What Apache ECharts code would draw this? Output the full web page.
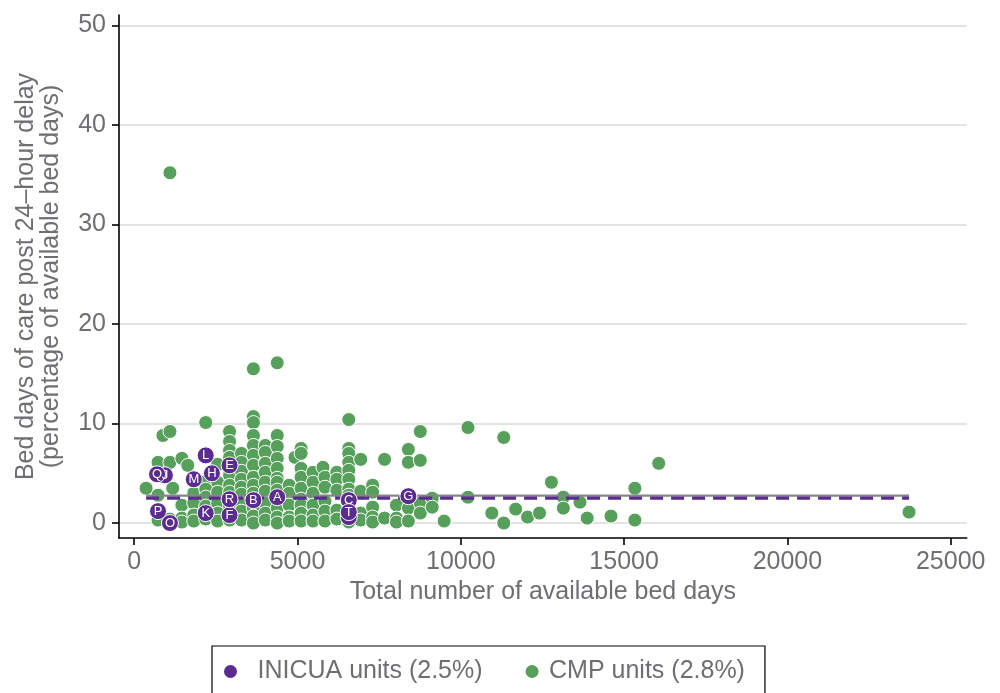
<!DOCTYPE html>
<html>
<head>
<meta charset="utf-8">
<script src="https://cdn.jsdelivr.net/npm/echarts@6/dist/echarts.min.js"></script>
<style>
html,body{margin:0;padding:0;background:#fff;}
#chart{width:1000px;height:693px;}
</style>
</head>
<body>
<div id="chart"></div>
<script>
// ---- data ----
const xTicks = [0, 5000, 10000, 15000, 20000, 25000];
const yTicks = [0, 10, 20, 30, 40, 50];

// CMP units: [total available bed days, % bed days post 24-hour delay]
const cmpUnits = [
  [365,3.5],
  [730,6.1],[730,2.8],[730,0.3],
  [880,8.8],
  [1095,35.2],[1095,9.2],[1095,6.1],[1095,0.4],[1180,3.5],
  [1460,6.5],[1460,1.8],[1460,0.5],[1460,0.1],[1640,5.8],
  [1825,3.0],[1825,2.0],[1825,0.8],[1825,0.2],
  [2190,10.1],[2190,4.2],[2190,3.4],[2190,2.6],[2190,1.7],[2190,0.4],
  [2555,5.9],[2555,4.1],[2555,3.1],[2555,2.0],[2555,1.0],[2555,0.2],
  [2920,9.2],[2920,8.2],[2920,7.3],[2920,6.6],[2920,4.8],[2920,3.8],[2920,3.1],[2920,1.7],[2920,0.3],
  [3285,7.0],[3285,6.1],[3285,5.2],[3285,4.4],[3285,3.6],[3285,2.9],[3285,2.0],[3285,1.2],[3285,0.3],
  [3650,15.5],[3650,10.7],[3650,10.1],[3650,8.8],[3650,7.8],[3650,6.8],[3650,5.8],[3650,4.6],[3650,3.8],[3650,3.0],[3650,1.5],[3650,0.7],[3650,0.0],
  [4015,7.8],[4015,7.1],[4015,6.0],[4015,5.1],[4015,4.1],[4015,3.2],[4015,2.0],[4015,1.0],[4015,0.3],
  [4380,16.1],[4380,8.8],[4380,7.7],[4380,6.5],[4380,5.5],[4380,4.5],[4380,4.1],[4380,3.3],[4380,1.5],[4380,0.6],[4380,0.0],
  [4745,3.8],[4745,3.0],[4745,1.8],[4745,0.6],[4745,0.2],[4925,6.6],
  [5110,7.5],[5110,7.0],[5110,5.5],[5110,4.6],[5110,3.5],[5110,2.4],[5110,1.8],[5110,1.0],[5110,0.2],
  [5475,5.1],[5475,4.1],[5475,3.0],[5475,1.8],[5475,0.8],[5475,0.2],
  [5780,5.6],[5840,4.6],[5840,3.6],[5840,2.2],[5840,1.2],[5840,0.2],
  [6205,5.1],[6205,4.4],[6205,3.3],[6205,1.3],[6205,0.4],
  [6570,10.4],[6570,7.5],[6570,7.0],[6570,6.1],[6570,5.3],[6570,4.4],[6570,3.4],[6570,2.8],[6570,1.8],[6570,0.1],
  [6935,6.4],[6935,3.2],[6935,1.0],[6935,0.3],
  [7300,3.8],[7300,3.1],[7300,1.6],[7300,0.6],[7300,0.1],
  [7665,6.4],[7665,0.5],
  [8030,1.8],[8030,0.5],[8030,0.1],
  [8395,7.4],[8395,6.1],[8395,1.5],[8395,0.2],
  [8760,9.2],[8760,6.3],[8760,2.0],[8760,1.0],
  [9125,2.5],[9125,1.6],
  [9490,0.2],
  [10220,9.6],[10220,2.6],
  [10950,1.0],
  [11315,8.6],[11315,0.0],
  [11680,1.4],[12045,0.6],[12410,1.0],[12775,4.1],
  [13140,2.6],[13140,1.5],[13650,2.1],[13870,0.5],[14600,0.7],
  [15330,3.5],[15330,0.3],[16060,6.0],
  [23725,1.1]
];

// INICUA units: labels, bed days, percentages ('' = label hidden behind other marks)
const inicuaLabels  = ['',   'A', 'B', 'C', 'E', 'F', 'G', 'H', 'J', 'Q', 'K', 'L', 'M', 'O', 'P', 'R', 'T'];
const inicuaBedDays = [6570, 4380,3650,6570,2920,2920,8395,2380,940, 700, 2190,2190,1825,1095,730, 2920,6570];
const inicuaPct     = [0.6,  2.6, 2.3, 2.3, 5.8, 0.8, 2.7, 5.0, 4.8, 4.9, 1.0, 6.8, 4.4, 0.0, 1.2, 2.4, 1.1];

const inicuaMean = 2.5;
const cmpMean = 2.75;

const inicuaName = 'INICUA units (2.5%)';
const cmpName = 'CMP units (2.8%)';

// ---- build ----
const allX = cmpUnits.map(d => d[0]).concat(inicuaBedDays);
const xLo = Math.min(...allX), xHi = Math.max(...allX);

const purple = '#5b2c8f';
const green = '#57a05b';
const grayText = '#6e6e73';
const font = '"Liberation Sans", Arial, Helvetica, sans-serif';

const chart = echarts.init(document.getElementById('chart'));
chart.setOption({
  animation: false,
  backgroundColor: '#fff',
  grid: { left: 119, right: 33.3, top: 15, bottom: 155, containLabel: false },
  xAxis: {
    type: 'value', min: -465, max: 25490,
    name: 'Total number of available bed days',
    nameLocation: 'middle', nameGap: 42,
    nameTextStyle: { color: grayText, fontSize: 25, fontFamily: font, verticalAlign: 'top' },
    axisLine: { show: true, onZero: false, lineStyle: { color: '#000', width: 1.6 } },
    axisTick: { show: true, length: 7, customValues: xTicks, lineStyle: { color: '#000', width: 1.6 } },
    axisLabel: { customValues: xTicks, color: grayText, fontSize: 25, fontFamily: font, margin: 12,
                 formatter: v => String(v) },
    splitLine: { show: false }
  },
  yAxis: {
    type: 'value', min: -1.5, max: 51.05,
    name: 'Bed days of care post 24\u2013hour delay\n(percentage of available bed days)',
    nameLocation: 'middle', nameGap: 55, nameRotate: 90,
    nameTextStyle: { color: grayText, fontSize: 25, fontFamily: font, lineHeight: 25, align: 'center' },
    axisLine: { show: true, onZero: false, lineStyle: { color: '#000', width: 1.6 } },
    axisTick: { show: true, length: 7, customValues: yTicks, lineStyle: { color: '#000', width: 1.6 } },
    axisLabel: { customValues: yTicks, color: grayText, fontSize: 25, fontFamily: font, margin: 13 },
    splitLine: { show: true, lineStyle: { color: '#d9d9d9', width: 1.6 } }
  },
  legend: {
    data: [
      { name: inicuaName, textStyle: { padding: [0, 0, 0, 10] } },
      { name: cmpName, textStyle: { padding: [0, 0, 0, 0] } }
    ],
    left: 212, top: 646,
    orient: 'horizontal',
    padding: [13, 20, 30, 10],
    itemWidth: 24, itemHeight: 15, itemGap: 41,
    borderColor: '#000', borderWidth: 1.2, borderRadius: 0,
    textStyle: { color: grayText, fontSize: 25, fontFamily: font },
    icon: 'circle'
  },
  series: [
    {
      name: cmpName, type: 'scatter', data: cmpUnits, z: 2,
      symbolSize: 14,
      itemStyle: { color: green, borderColor: '#fff', borderWidth: 1, opacity: 1 },
      emphasis: { disabled: true }
    },
    {
      name: 'cmpMean', type: 'line', data: [[xLo, cmpMean], [xHi, cmpMean]], z: 3,
      symbol: 'none', lineStyle: { color: '#858585', width: 2.2 }, silent: true
    },
    {
      name: 'inicuaMean', type: 'line', data: [[xLo, inicuaMean], [xHi, inicuaMean]], z: 4,
      symbol: 'none', lineStyle: { color: purple, width: 3.2, type: [13, 8] }, silent: true
    },
    {
      name: inicuaName, type: 'scatter', z: 5,
      data: inicuaBedDays.map((x, i) => ({ value: [x, inicuaPct[i]], name: inicuaLabels[i] })),
      symbolSize: 17,
      itemStyle: { color: purple, borderColor: '#fff', borderWidth: 1, opacity: 1 },
      label: { show: true, position: 'inside', formatter: p => p.name, color: '#fff', fontSize: 13, fontFamily: font },
      emphasis: { disabled: true }
    }
  ]
});
</script>
</body>
</html>
